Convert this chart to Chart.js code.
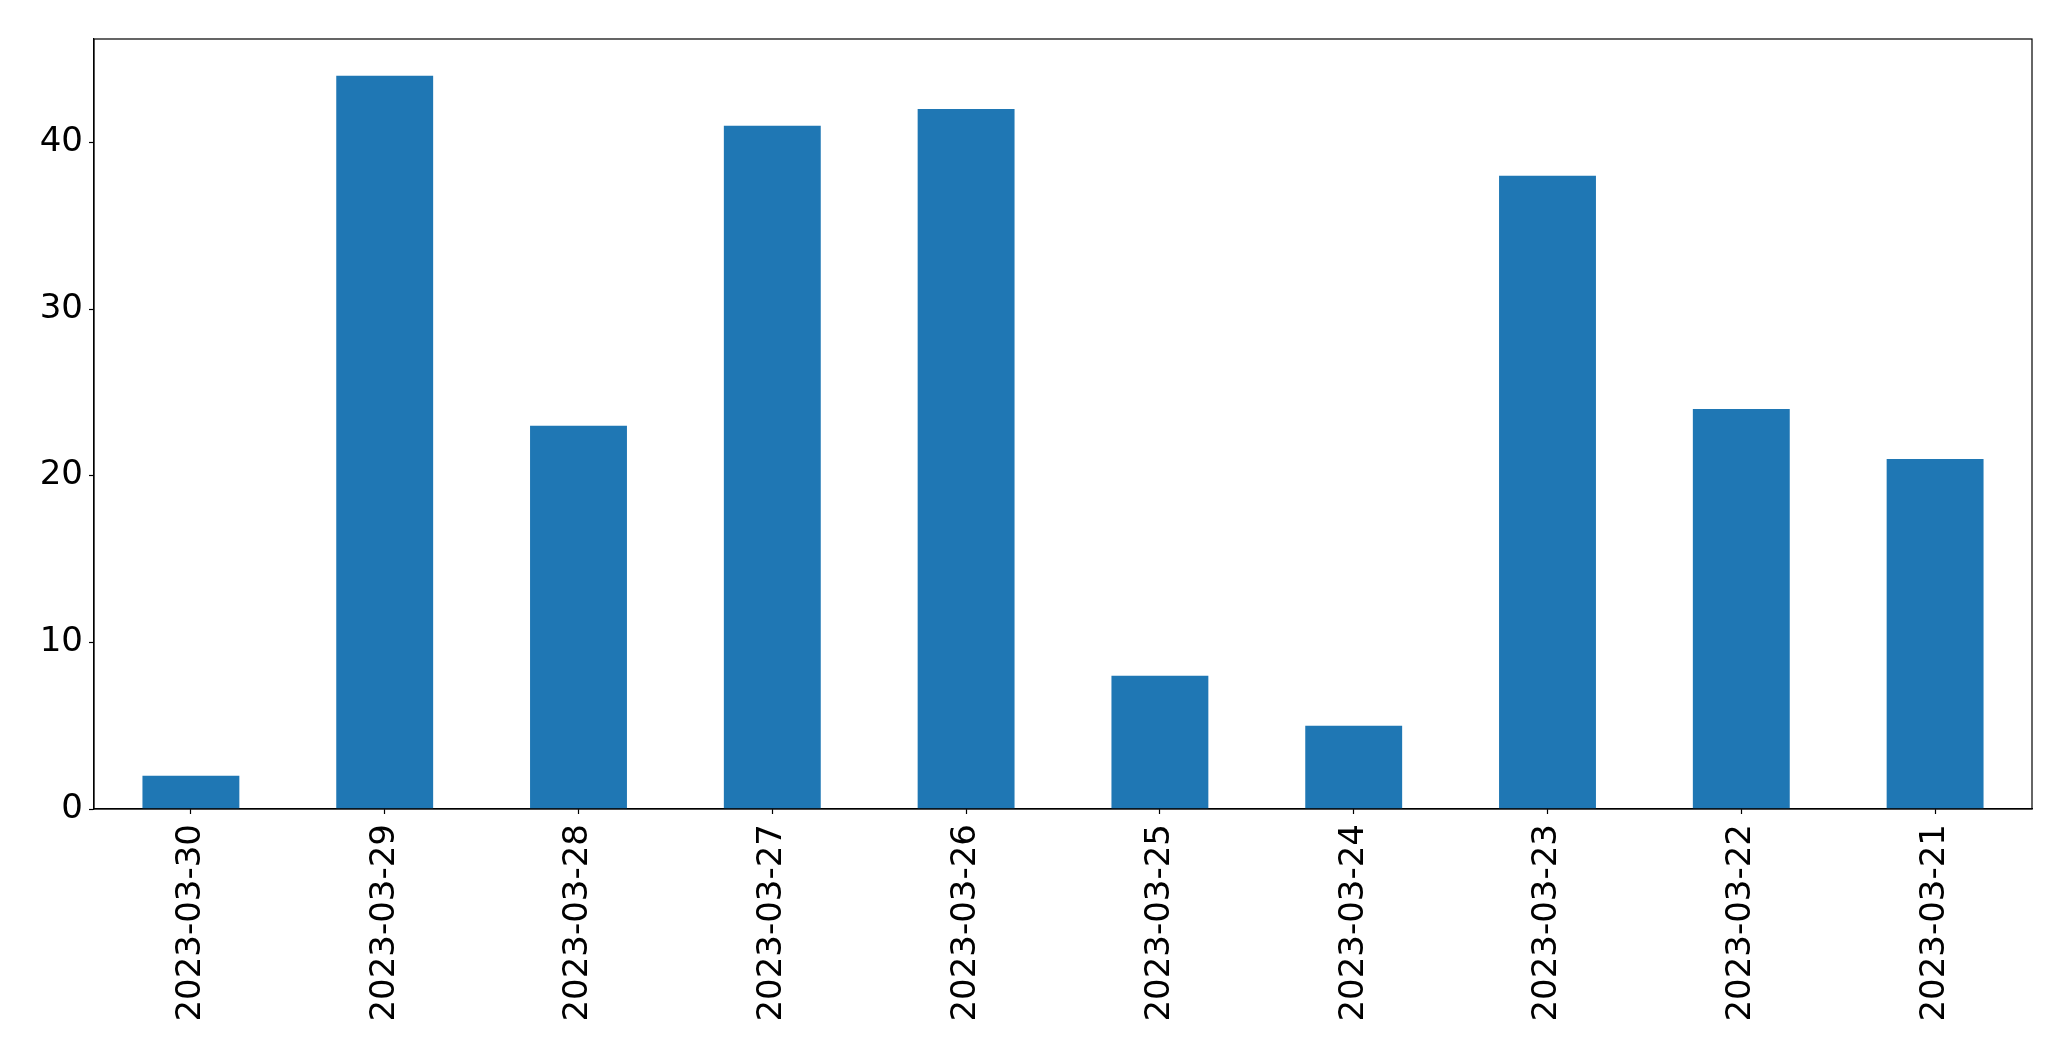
<!DOCTYPE html>
<html lang="en">
<head>
  <meta charset="UTF-8" />
  <title>Daily counts</title>
  <script src="https://cdn.jsdelivr.net/npm/chart.js@4.4.1/dist/chart.umd.min.js"></script>
  <style>
    html, body {
      margin: 0;
      padding: 0;
      background: #fff;
    }
    #wrap {
      width: 2071px;
      height: 1061px;
    }
  </style>
</head>
<body>
  <div id="wrap">
    <canvas id="chart" width="2071" height="1061"></canvas>
  </div>

  <script>
    const dates = ['2023-03-30','2023-03-29','2023-03-28','2023-03-27','2023-03-26',
                   '2023-03-25','2023-03-24','2023-03-23','2023-03-22','2023-03-21'];
    const counts = [2, 44, 23, 41, 42, 8, 5, 38, 24, 21];
    const yTicks = [0, 10, 20, 30, 40];

    const font = { family: 'DejaVu Sans', size: 34 };

    // box round the plot area, like matplotlib spines
    const frame = {
      id: 'frame',
      afterDraw(chart) {
        const { ctx, chartArea: a } = chart;
        ctx.save();
        ctx.strokeStyle = '#000';
        ctx.lineWidth = 1.2;
        ctx.strokeRect(a.left, a.top, a.right - a.left, a.bottom - a.top);
        ctx.restore();
      }
    };

    new Chart(document.getElementById('chart'), {
      type: 'bar',
      data: {
        labels: dates,
        datasets: [{
          data: counts,
          backgroundColor: '#1f77b4',
          categoryPercentage: 1,
          barPercentage: 0.5
        }]
      },
      options: {
        responsive: false,
        devicePixelRatio: 1,
        animation: false,
        layout: { padding: { left: 0, top: 39, right: 39, bottom: 0 } },
        plugins: {
          legend: { display: false },
          tooltip: { enabled: false }
        },
        scales: {
          x: {
            offset: true,
            grid: {
              offset: false,
              drawOnChartArea: false,
              drawTicks: true,
              tickLength: 5,
              tickColor: '#000',
              tickWidth: 1.2
            },
            border: { color: '#000', width: 1.2 },
            ticks: {
              color: '#000',
              font: font,
              padding: 10,
              minRotation: 90,
              maxRotation: 90,
              autoSkip: false
            },
            afterFit: s => { s.height = 252; }
          },
          y: {
            min: 0,
            max: 46.2,
            grid: {
              drawOnChartArea: false,
              drawTicks: true,
              tickLength: 5,
              tickColor: '#000',
              tickWidth: 1.2
            },
            border: { color: '#000', width: 1.2 },
            ticks: {
              color: '#000',
              font: font,
              padding: 6
            },
            afterBuildTicks: s => { s.ticks = yTicks.map(v => ({ value: v })); },
            afterFit: s => { s.width = 94; }
          }
        }
      },
      plugins: [frame]
    });
  </script>
</body>
</html>
